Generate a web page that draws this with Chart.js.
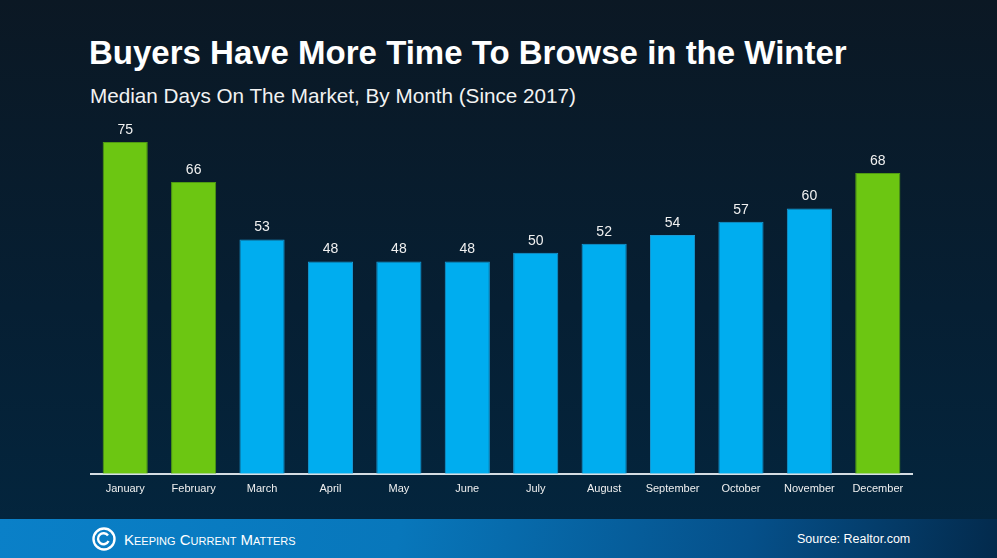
<!DOCTYPE html>
<html lang="en">
<head>
    <meta charset="UTF-8">
    <title>Buyers Have More Time To Browse in the Winter</title>
    <script src="https://cdn.jsdelivr.net/npm/chart.js"></script>
    <style>
        html, body { margin: 0; padding: 0; }
        body {
            width: 997px; height: 558px; overflow: hidden; position: relative;
            background: linear-gradient(180deg, #0b1824 0%, #061f33 55%, #03263f 100%);
            font-family: "Liberation Sans", Arial, sans-serif; color: #fff;
        }
        h1 {
            position: absolute; left: 89px; top: 34px; margin: 0;
            font-size: 33px; font-weight: bold;
        }
        h2 {
            position: absolute; left: 90px; top: 84px; margin: 0;
            font-size: 20.7px; font-weight: normal; color: #f2f2f2;
        }
        #wrap { position: absolute; left: 0; top: 100px; width: 997px; height: 405px; }
        #footer {
            position: absolute; left: 0; top: 519px; width: 997px; height: 39px;
            background: linear-gradient(100deg, #0a80c8 0%, #0877bb 40%, #05508a 75%, #032a4c 100%);
        }
        #logo { position: absolute; left: 92px; top: 8px; }
        #brand {
            position: absolute; left: 124px; top: 12px; font-size: 15px;
            font-variant: small-caps; font-family: "Liberation Sans Narrow", "Liberation Sans", sans-serif;
        }
        #source { position: absolute; left: 797px; top: 13px; font-size: 12.5px; }
    </style>
</head>
<body>
    <h1>Buyers Have More Time To Browse in the Winter</h1>
    <h2>Median Days On The Market, By Month (Since 2017)</h2>
    <div id="wrap"><canvas id="daysChart"></canvas></div>
    <div id="footer">
        <svg id="logo" width="24" height="24" viewBox="0 0 24 24">
            <circle cx="12" cy="12" r="10.5" fill="none" stroke="#fff" stroke-width="2.4"/>
            <path d="M16 8.5 A5.5 5.5 0 1 0 16.5 14" fill="none" stroke="#fff" stroke-width="2.4"/>
        </svg>
        <div id="brand">Keeping Current Matters</div>
        <div id="source">Source: Realtor.com</div>
    </div>

    <script>
        const months = ['January', 'February', 'March', 'April', 'May', 'June',
                        'July', 'August', 'September', 'October', 'November', 'December'];
        const medianDays = [75, 66, 53, 48, 48, 48, 50, 52, 54, 57, 60, 68];
        const winterMonths = ['January', 'February', 'December'];

        const barColors = months.map(m => winterMonths.includes(m) ? '#6cc612' : '#00adef');
        const borderColors = months.map(m => winterMonths.includes(m) ? '#4f9a12' : '#1a9bd6');

        // writes the value over each bar
        const valueLabels = {
            id: 'valueLabels',
            afterDatasetsDraw(chart) {
                const ctx = chart.ctx;
                const meta = chart.getDatasetMeta(0);
                ctx.save();
                ctx.fillStyle = '#f0f0f0';
                ctx.font = '14px "Liberation Sans", Arial, sans-serif';
                ctx.textAlign = 'center';
                ctx.textBaseline = 'bottom';
                meta.data.forEach((bar, i) => {
                    ctx.fillText(medianDays[i], bar.x, bar.y - 5);
                });
                ctx.restore();
            }
        };

        const ctx = document.getElementById('daysChart').getContext('2d');
        const chart = new Chart(ctx, {
            type: 'bar',
            data: {
                labels: months,
                datasets: [{
                    label: 'Median Days On The Market',
                    data: medianDays,
                    backgroundColor: barColors,
                    borderColor: borderColors,
                    borderWidth: 1,
                    barPercentage: 0.66,
                    categoryPercentage: 1
                }]
            },
            options: {
                responsive: true,
                maintainAspectRatio: false,
                animation: false,
                layout: { padding: { left: 91, right: 85, top: 20, bottom: 0 } },
                plugins: {
                    legend: { display: false },
                    tooltip: { enabled: false }
                },
                scales: {
                    x: {
                        grid: { display: false, drawTicks: false },
                        border: { color: '#d5dde3', width: 2 },
                        ticks: {
                            color: '#f0f0f0',
                            padding: 9,
                            maxRotation: 0,
                            autoSkip: false,
                            font: { family: '"Liberation Sans", Arial, sans-serif', size: 11 }
                        }
                    },
                    y: {
                        display: false,
                        min: 0,
                        max: 80
                    }
                }
            },
            plugins: [valueLabels]
        });
    </script>
</body>
</html>
